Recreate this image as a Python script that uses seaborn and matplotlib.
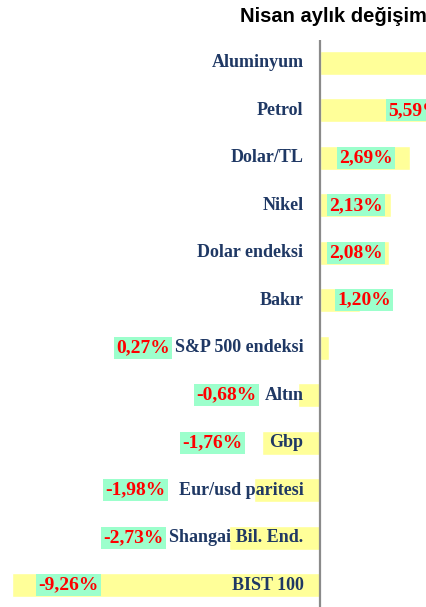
import matplotlib
matplotlib.use("Agg")
import matplotlib.pyplot as plt
import pandas as pd
import seaborn as sns

# Monthly (April) change per asset, in percent. Aluminyum is cut off in the source,
# so its value is only a guess that keeps the bar running past the right edge.
categories = ["Aluminyum", "Petrol", "Dolar/TL", "Nikel", "Dolar endeksi", "Bakır",
              "S&P 500 endeksi", "Altın", "Gbp", "Eur/usd paritesi",
              "Shangai Bil. End.", "BIST 100"]
changes = [9.00, 5.59, 2.69, 2.13, 2.08, 1.20, 0.27, -0.68, -1.76, -1.98, -2.73, -9.26]

# where each value tag was placed along the x axis (percent units)
# (Aluminyum's tag lies outside the cropped picture, so it is not drawn)
tag_x = [None, 2.85, 1.38, 1.08, 1.08, 1.32, -5.33, -2.82, -3.24, -5.56, -5.60, -7.57]

df = pd.DataFrame({"category": categories, "change": changes})

sns.set_style("white")

fig = plt.figure(figsize=(4.27, 6.07), dpi=100)
ax = fig.add_axes([0, 0, 1, 567 / 607])

sns.barplot(data=df, x="change", y="category", orient="h", color="#FFFF99",
            saturation=1, width=0.5, ax=ax)

ax.set_xlim(-9.62, 3.21)
ax.set_ylim(11.46, -0.48)
ax.axvline(0, color="#8a8a8a", lw=1.6, zorder=1)

for i, (cat, val, tx) in enumerate(zip(categories, changes, tag_x)):
    ax.text(-0.5, i, cat, ha="right", va="center", fontsize=13,
            family="Liberation Serif", fontweight="bold", color="#1F3864", zorder=4)
    if tx is None:
        continue
    lab = f"{val:.2f}".replace(".", ",") + "%"
    ax.text(tx, i, lab, ha="center", va="center", fontsize=14,
            family="Liberation Serif", fontweight="bold", color="#FF0000", zorder=5,
            bbox=dict(boxstyle="square,pad=0.12", fc="#9CFFCC", ec="none"))

ax.set_xlabel(""); ax.set_ylabel("")
ax.set_xticks([]); ax.set_yticks([])
sns.despine(ax=ax, left=True, bottom=True)

fig.text(240 / 427, 1 - 17 / 607, "Nisan aylık değişim", ha="left", va="center",
         fontsize=14.5, fontweight="bold", family="Liberation Sans", color="black")

fig.savefig("out.png", dpi=100)
plt.close(fig)
